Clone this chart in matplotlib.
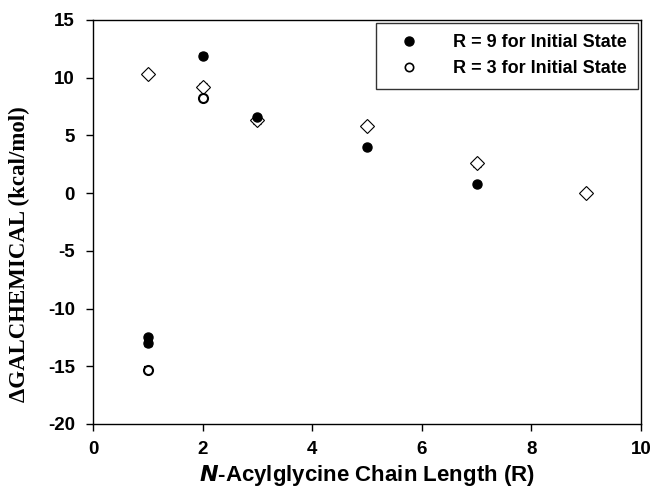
import numpy as np
import matplotlib.pyplot as plt
from matplotlib.lines import Line2D

# filled circles: R = 9 for initial state
r9_x = [1, 1, 2, 3, 5, 7]
r9_y = [-12.5, -13.0, 11.9, 6.6, 4.0, 0.8]
r9_err = [0.25, 0.25, 0.2, 0.2, 0.2, 0.2]

# open circles: R = 3 for initial state
r3_x = [1, 2]
r3_y = [-15.3, 8.2]
r3_err = [0.2, 0.2]

# open diamonds
dia_x = [1, 2, 3, 5, 7, 9]
dia_y = [10.3, 9.2, 6.3, 5.8, 2.6, 0.0]
dia_err = [0.0, 0.3, 0.3, 0.0, 0.3, 0.0]

plt.rcParams['font.family'] = ['Liberation Sans', 'DejaVu Sans']
plt.rcParams['font.weight'] = 'bold'
plt.rcParams['axes.unicode_minus'] = False

fig = plt.figure(figsize=(6.56, 4.97), dpi=100)
ax = fig.add_axes([93 / 656, 1 - 424 / 497, (641 - 93) / 656, (424 - 20) / 497])

ax.errorbar(dia_x, dia_y, yerr=dia_err, fmt='D', ms=7, mfc='white', mec='black',
            mew=0.8, ecolor='black', elinewidth=1, capsize=3, zorder=2)
ax.errorbar(r3_x, r3_y, yerr=r3_err, fmt='o', ms=6.5, mfc='white', mec='black',
            mew=1.5, ecolor='black', elinewidth=1, capsize=3, zorder=3)
ax.errorbar(r9_x, r9_y, yerr=r9_err, fmt='o', ms=6.5, mfc='black', mec='black',
            ecolor='black', elinewidth=1, capsize=3, zorder=4)

ax.set_xlim(0, 10)
ax.set_ylim(-20, 15)
ax.set_xticks(np.arange(0, 11, 2))
ax.set_yticks(np.arange(-20, 16, 5))
ax.tick_params(direction='out', length=5, width=1, labelsize=13.5)
ax.tick_params(axis='y', pad=8)
ax.tick_params(axis='x', pad=7)
for lbl in ax.get_xticklabels() + ax.get_yticklabels():
    lbl.set_fontweight('bold')
for sp in ax.spines.values():
    sp.set_linewidth(1)

ax.set_xlabel(r'$\bfit{N}$-Acylglycine Chain Length (R)', fontsize=16, fontweight='bold', labelpad=4)
ax.set_ylabel('ΔGALCHEMICAL (kcal/mol)', fontsize=16.5, fontweight='bold',
              family='Liberation Serif')
ax.yaxis.set_label_coords(-0.115, 0.42)

handles = [
    Line2D([], [], ls='none', marker='o', ms=6.5, mfc='black', mec='black'),
    Line2D([], [], ls='none', marker='o', ms=6, mfc='white', mec='black', mew=1.2),
]
leg = ax.legend(handles, ['R = 9 for Initial State', 'R = 3 for Initial State'],
                loc='upper right', fontsize=13, frameon=True, fancybox=False,
                edgecolor='black', borderaxespad=0.15, handletextpad=1.2,
                borderpad=0.65, labelspacing=0.5, handlelength=2.4)
leg.get_frame().set_linewidth(1)
for t in leg.get_texts():
    t.set_fontweight('bold')

fig.savefig('out.png', dpi=100)
